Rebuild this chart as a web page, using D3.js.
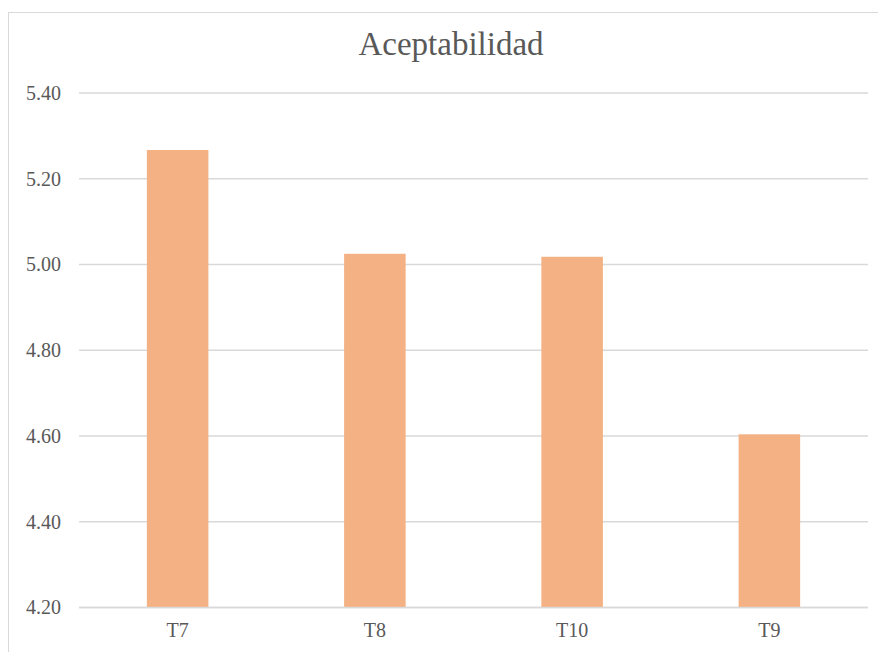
<!DOCTYPE html>
<html>
<head>
<meta charset="utf-8">
<script src="https://cdn.jsdelivr.net/npm/d3@7"></script>
<style>
  html, body { margin: 0; padding: 0; background: #fff; }
  svg { display: block; }
</style>
</head>
<body>
<svg id="chart" width="878" height="652"></svg>
<script>
const title = "Aceptabilidad";
const categories = ["T7", "T8", "T10", "T9"];
const values = [5.267, 5.025, 5.018, 4.604];
const yTicks = [4.20, 4.40, 4.60, 4.80, 5.00, 5.20, 5.40];

const W = 878, H = 652;
const plot = { left: 79, right: 868, top: 93, bottom: 607.5 };
const font = "'Liberation Serif', 'Times New Roman', serif";
const textColor = "#595959";

const svg = d3.select("#chart");

svg.append("rect")
  .attr("x", 8.5).attr("y", 12.5)
  .attr("width", 900).attr("height", 700)
  .attr("fill", "#fff").attr("stroke", "#D9D9D9").attr("stroke-width", 1);

const x = d3.scaleBand()
  .domain(categories)
  .range([plot.left, plot.right])
  .paddingInner(0.688)
  .paddingOuter(0.344);

const y = d3.scaleLinear()
  .domain([4.20, 5.40])
  .range([plot.bottom, plot.top]);

// gridlines
svg.append("g")
  .selectAll("line")
  .data(yTicks)
  .join("line")
  .attr("x1", plot.left).attr("x2", plot.right)
  .attr("y1", d => y(d)).attr("y2", d => y(d))
  .attr("stroke", "#D9D9D9").attr("stroke-width", 1.5);

// y axis labels
const yAxis = d3.axisLeft(y).tickValues(yTicks).tickFormat(d3.format(".2f")).tickSize(0).tickPadding(18);
const yg = svg.append("g").attr("transform", `translate(${plot.left},0)`).call(yAxis);
yg.select(".domain").remove();
yg.selectAll("text")
  .attr("font-family", font).attr("font-size", 20).attr("fill", textColor);

// bars
svg.append("g")
  .selectAll("rect")
  .data(categories.map((c, i) => ({ c, v: values[i] })))
  .join("rect")
  .attr("x", d => x(d.c))
  .attr("width", x.bandwidth())
  .attr("y", d => y(d.v))
  .attr("height", d => y(4.20) - y(d.v))
  .attr("fill", "#F4B183");

// baseline redraw on top
svg.append("line")
  .attr("x1", plot.left).attr("x2", plot.right)
  .attr("y1", y(4.20)).attr("y2", y(4.20))
  .attr("stroke", "#D9D9D9").attr("stroke-width", 1.5);

// x axis labels
const xAxis = d3.axisBottom(x).tickSize(0).tickPadding(15);
const xg = svg.append("g").attr("transform", `translate(0,${plot.bottom})`).call(xAxis);
xg.select(".domain").remove();
xg.selectAll("text")
  .attr("font-family", font).attr("font-size", 20).attr("fill", textColor);

// title
svg.append("text")
  .attr("x", 451).attr("y", 55)
  .attr("text-anchor", "middle")
  .attr("font-family", font).attr("font-size", 33)
  .attr("fill", textColor)
  .text(title);
</script>
</body>
</html>
